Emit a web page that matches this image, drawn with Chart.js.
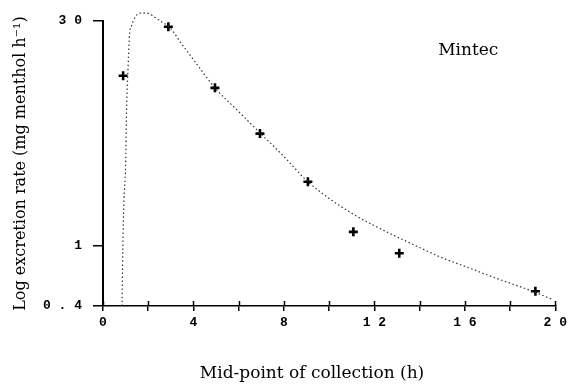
<!DOCTYPE html>
<html>
<head>
<meta charset="utf-8">
<style>
  html, body { margin: 0; padding: 0; background: #fff; }
  canvas { display: block; }
</style>
<script src="https://cdn.jsdelivr.net/npm/chart.js@4/dist/chart.umd.min.js"></script>
</head>
<body>
<canvas id="chart" width="571" height="385"></canvas>
<script>
// measured points (mid-point of collection, h)
const hours = [0.89, 2.89, 4.95, 6.94, 9.06, 11.07, 13.1, 19.12];
const rates = [13.1, 27.5, 10.9, 5.45, 2.63, 1.23, 0.89, 0.50];

// fitted curve
const fitHours = [0.84, 0.89, 0.93, 1.0, 1.04, 1.11, 1.18, 1.26, 1.4, 1.62, 1.93, 2.28, 2.6, 2.93, 3.5, 4.0, 4.95, 6.0, 7.0, 8.0, 9.0, 10, 11, 12, 13, 14, 15, 16, 17, 18, 19, 19.9];
const fitRates = [0.4, 1.23, 2.03, 3.33, 7.5, 15.0, 25.0, 27.8, 31.4, 33.8, 33.8, 31.8, 29.6, 27.4, 21.0, 16.7, 10.9, 7.6, 5.4, 3.85, 2.68, 2.04, 1.63, 1.35, 1.14, 0.97, 0.83, 0.73, 0.64, 0.565, 0.5, 0.44];

const yTicks = [0.4, 1, 30];
const xTicks = [0, 2, 4, 6, 8, 10, 12, 14, 16, 18, 20];

const xTitle = 'Mid-point of collection (h)';
const yTitle = 'Log excretion rate (mg menthol h\u207B\u00B9)';
const note = 'Mintec';

const tickFont = { family: '"Liberation Mono", monospace', size: 13, weight: 'bold' };
const spaced = v => String(v).split('').join(' ');

// extra bits: inner half of x ticks, x title, the Mintec note
const extras = {
  id: 'extras',
  afterDraw(chart) {
    const { ctx, scales: { x, y } } = chart;
    const base = y.getPixelForValue(yTicks[0]);
    ctx.save();
    ctx.strokeStyle = '#000';
    ctx.lineWidth = 1.5;
    x.ticks.forEach(t => {
      const px = Math.round(x.getPixelForValue(t.value)) + 0.5;
      ctx.beginPath();
      ctx.moveTo(px, base);
      ctx.lineTo(px, base - 5);
      ctx.stroke();
    });
    ctx.fillStyle = '#000';
    ctx.font = '17px "DejaVu Serif", serif';
    ctx.textAlign = 'center';
    ctx.textBaseline = 'alphabetic';
    ctx.fillText(xTitle, 312, 378);
    ctx.fillText(note, x.getPixelForValue(16.15), y.getPixelForValue(18));
    ctx.restore();
  }
};

function main() {
  const ctx = document.getElementById('chart');
  new Chart(ctx, {
    type: 'scatter',
    data: {
      datasets: [
        {
          label: 'fit',
          data: fitHours.map((h, i) => ({ x: h, y: fitRates[i] })),
          showLine: true,
          clip: false,
          borderColor: '#333',
          borderWidth: 1.2,
          borderDash: [1.5, 2.5],
          pointRadius: 0,
          cubicInterpolationMode: 'monotone'
        },
        {
          label: 'observed',
          data: hours.map((h, i) => ({ x: h, y: rates[i] })),
          pointStyle: 'cross',
          pointRadius: 4.5,
          borderColor: '#000',
          borderWidth: 2.6
        }
      ]
    },
    options: {
      responsive: false,
      animation: false,
      devicePixelRatio: 1,
      layout: { padding: { left: 0, right: 11, top: 21, bottom: 0 } },
      plugins: { legend: { display: false }, tooltip: { enabled: false } },
      scales: {
        x: {
          type: 'linear',
          min: 0,
          max: 20,
          afterBuildTicks: s => { s.ticks = xTicks.map(v => ({ value: v })); },
          afterFit: s => { s.height = 79; },
          ticks: {
            autoSkip: false,
            maxRotation: 0,
            padding: 4,
            color: '#000',
            font: tickFont,
            callback: v => (v % 4 === 0 ? spaced(v) : '')
          },
          grid: { drawOnChartArea: false, drawTicks: true, tickLength: 5, color: '#000', lineWidth: 1.5 },
          border: { display: true, color: '#000', width: 1.5 }
        },
        y: {
          type: 'logarithmic',
          min: 0.4,
          max: 30,
          afterBuildTicks: s => { s.ticks = yTicks.map(v => ({ value: v })); },
          afterFit: s => { s.width = 103; },
          ticks: {
            padding: 11,
            color: '#000',
            font: tickFont,
            callback: v => spaced(v)
          },
          grid: { drawOnChartArea: false, drawTicks: true, tickLength: 10, color: '#000', lineWidth: 1.5 },
          border: { display: true, color: '#000', width: 2 },
          title: {
            display: true,
            text: yTitle,
            color: '#000',
            font: { family: '"DejaVu Serif", serif', size: 16 },
            padding: { top: 11, bottom: 0 }
          }
        }
      }
    },
    plugins: [extras]
  });
}

document.addEventListener('DOMContentLoaded', main);
</script>
</body>
</html>
